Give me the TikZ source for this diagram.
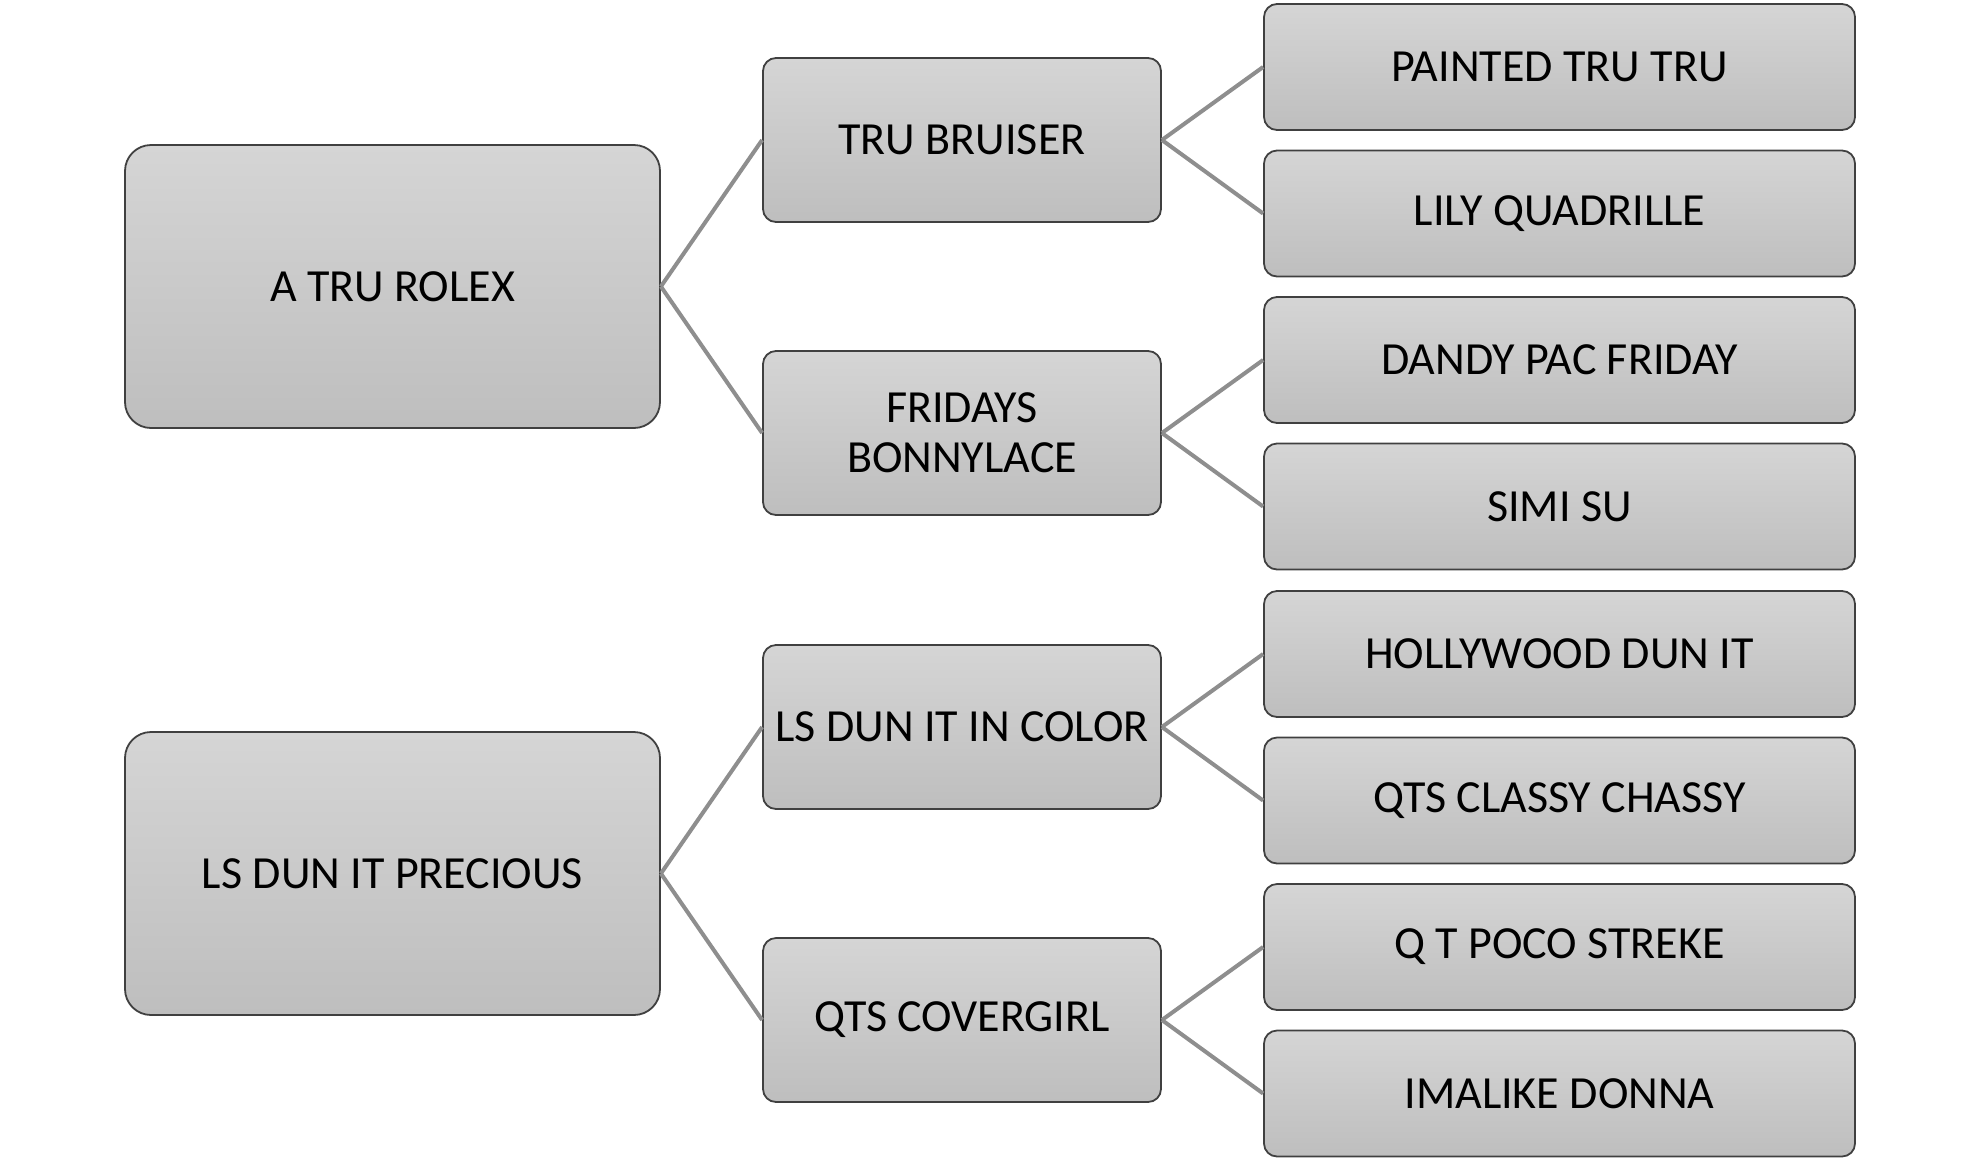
\documentclass[tikz,border=0pt]{standalone}
\usepackage{fontspec}
\setmainfont{Carlito}
\definecolor{boxtop}{HTML}{D5D5D5}
\definecolor{boxbot}{HTML}{BEBEBE}
\definecolor{boxline}{HTML}{404040}
\definecolor{conn}{HTML}{8E8E8E}
\tikzset{
  gbox/.style={rectangle, draw=boxline, line width=1.8pt, top color=boxtop, bottom color=boxbot,
    inner sep=0pt, align=center, font=\fontsize{46}{50}\selectfont},
  rootbox/.style={gbox, minimum width=535pt, minimum height=283pt, rounded corners=26pt},
  midbox/.style={gbox, minimum width=398pt, minimum height=164pt, rounded corners=13pt},
  leafbox/.style={gbox, minimum width=591pt, minimum height=126pt, rounded corners=13pt},
  link/.style={draw=conn, line width=4pt}
}
\begin{document}
\begin{tikzpicture}[x=1pt,y=-1pt]
\useasboundingbox (0,0) rectangle (1980,1160);
\node[rootbox] (r1) at (392.5,286.5) {A TRU ROLEX};
\node[rootbox] (r2) at (392.5,873.5) {LS DUN IT PRECIOUS};
\node[midbox] (m1) at (962,140) {TRU BRUISER};
\node[midbox] (m2) at (962,433) {FRIDAYS\\BONNYLACE};
\node[midbox] (m3) at (962,727) {LS DUN IT IN COLOR};
\node[midbox] (m4) at (962,1020) {QTS COVERGIRL};
\node[leafbox] (l1) at (1559.5,67) {PAINTED TRU TRU};
\node[leafbox] (l2) at (1559.5,213.5) {LILY QUADRILLE};
\node[leafbox] (l3) at (1559.5,360) {DANDY PAC FRIDAY};
\node[leafbox] (l4) at (1559.5,506.5) {SIMI SU};
\node[leafbox] (l5) at (1559.5,654) {HOLLYWOOD DUN IT};
\node[leafbox] (l6) at (1559.5,800.5) {QTS CLASSY CHASSY};
\node[leafbox] (l7) at (1559.5,947) {Q T POCO STREKE};
\node[leafbox] (l8) at (1559.5,1093.5) {IMALIKE DONNA};
\draw[link] (r1.east) -- (m1.west);
\draw[link] (r1.east) -- (m2.west);
\draw[link] (r2.east) -- (m3.west);
\draw[link] (r2.east) -- (m4.west);
\draw[link] (m1.east) -- (l1.west);
\draw[link] (m1.east) -- (l2.west);
\draw[link] (m2.east) -- (l3.west);
\draw[link] (m2.east) -- (l4.west);
\draw[link] (m3.east) -- (l5.west);
\draw[link] (m3.east) -- (l6.west);
\draw[link] (m4.east) -- (l7.west);
\draw[link] (m4.east) -- (l8.west);
\end{tikzpicture}
\end{document}
